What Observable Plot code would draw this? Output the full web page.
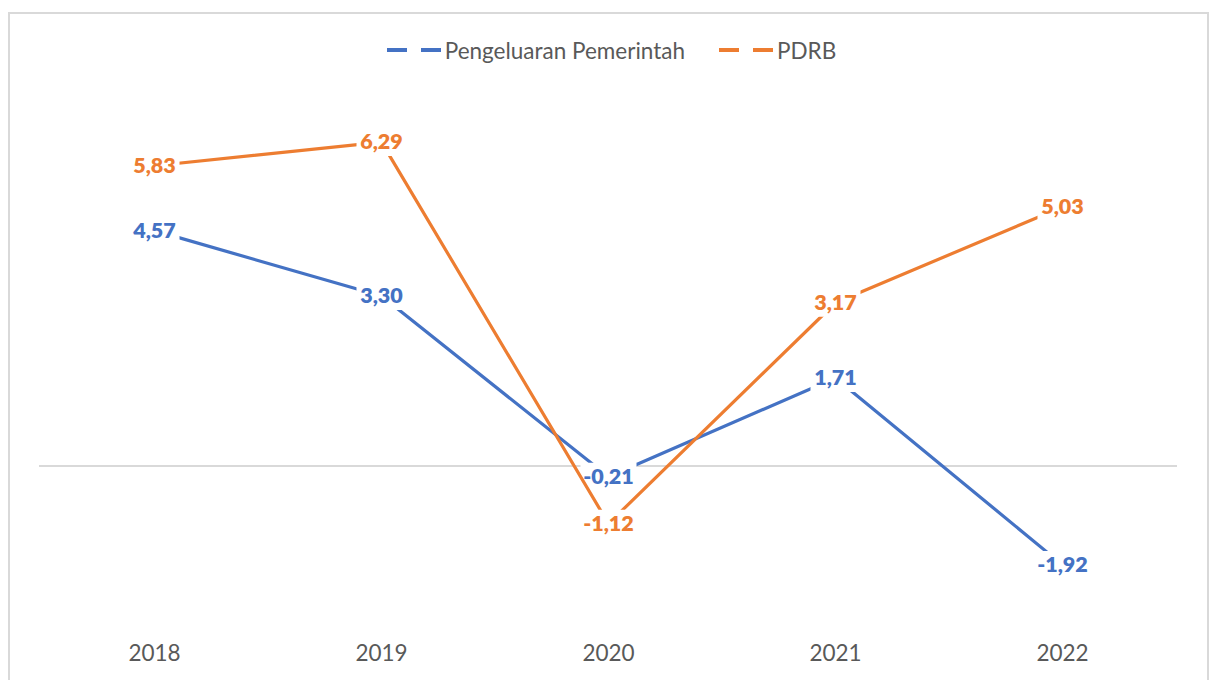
<!DOCTYPE html>
<html>
<head>
<meta charset="utf-8">
<script src="https://cdn.jsdelivr.net/npm/d3@7"></script>
<script src="https://cdn.jsdelivr.net/npm/@observablehq/plot@0.6"></script>
<style>
  html, body { margin: 0; padding: 0; background: #fff; }
  body { width: 1209px; height: 680px; overflow: hidden; position: relative; font-family: Lato, "Open Sans", sans-serif; }
  #frame { position: absolute; left: 8px; top: 12px; width: 1197px; height: 700px; border: 2px solid #d9d9d9; pointer-events: none; }
  #legend { height: 80px; display: flex; justify-content: center; align-items: center; padding-left: 14px; box-sizing: border-box; padding-top: 20px; }
  .item { display: flex; align-items: center; font-size: 22.5px; color: #595959; }
  .item svg { display: block; margin-right: 4px; }
  .item + .item { margin-left: 34px; }
  #chart svg { display: block; }
</style>
</head>
<body>
<div id="legend"></div>
<div id="chart"></div>
<div id="frame"></div>
<script>
const years = ["2018", "2019", "2020", "2021", "2022"];
const seriesNames = ["Pengeluaran Pemerintah", "PDRB"];
const pemerintah = [4.57, 3.30, -0.21, 1.71, -1.92];
const pdrb = [5.83, 6.29, -1.12, 3.17, 5.03];
const colors = ["#4472C4", "#ED7D31"];

const fmt = v => v.toFixed(2).replace(".", ",");
const rows = s => years.map((year, i) => ({year, value: s === 0 ? pemerintah[i] : pdrb[i], label: fmt(s === 0 ? pemerintah[i] : pdrb[i])}));

// legend
const legend = document.getElementById("legend");
seriesNames.forEach((name, i) => {
  const item = document.createElement("div");
  item.className = "item";
  item.innerHTML = `<svg width="54" height="10"><line x1="0" y1="5" x2="54" y2="5" stroke="${colors[i]}" stroke-width="4" stroke-dasharray="20 14"/></svg><span>${name}</span>`;
  legend.appendChild(item);
});

const box = (w, h) => ({draw(ctx) { ctx.rect(-w / 2, -h / 2, w, h); }});

const marks = [Plot.ruleY([0], {stroke: "#d9d9d9", strokeWidth: 2})];
[0, 1].forEach(s => {
  const data = rows(s);
  marks.push(Plot.line(data, {x: "year", y: "value", stroke: colors[s], strokeWidth: 3.2}));
  marks.push(Plot.dot(data.filter(d => d.label.length === 4), {x: "year", y: "value", symbol: box(50, 28), fill: "white", r: 5}));
  marks.push(Plot.dot(data.filter(d => d.label.length === 5), {x: "year", y: "value", symbol: box(56, 28), fill: "white", r: 5}));
  marks.push(Plot.text(data, {x: "year", y: "value", text: "label", fill: colors[s], fontWeight: 800, fontSize: 21.5, dy: 0.5}));
});
marks.push(Plot.axisX({tickSize: 0, tickPadding: 25, fontSize: 22.5, color: "#595959"}));

const chart = Plot.plot({
  width: 1209,
  height: 600,
  marginLeft: 39,
  marginRight: 32,
  marginTop: 25,
  marginBottom: 60,
  style: {fontFamily: "Lato, 'Open Sans', sans-serif", color: "#595959", background: "white"},
  x: {type: "point", domain: years, padding: 0.5, label: null},
  y: {domain: [-3, 7], axis: null},
  marks
});
document.getElementById("chart").appendChild(chart);
</script>
</body>
</html>
